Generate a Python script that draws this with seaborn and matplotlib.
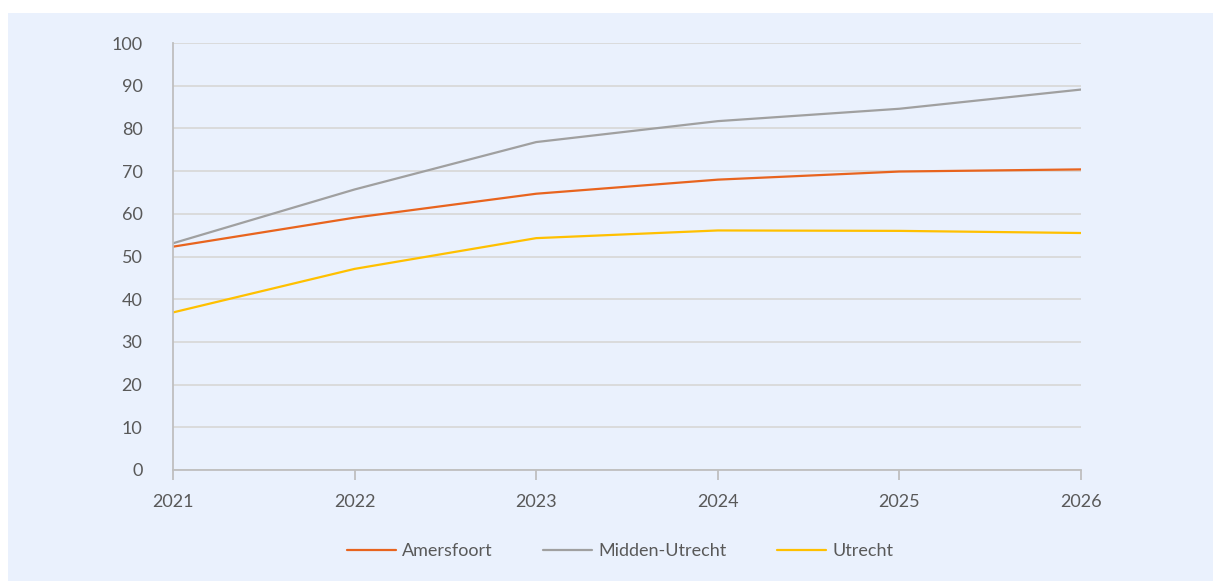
import matplotlib
matplotlib.use("Agg")
import matplotlib.pyplot as plt
from matplotlib.patches import Rectangle
import seaborn as sns
import pandas as pd

years = [2021, 2022, 2023, 2024, 2025, 2026]
amersfoort = [52.3, 59.1, 64.7, 68.0, 69.9, 70.4]
midden_utrecht = [53.1, 65.7, 76.8, 81.7, 84.6, 89.1]
utrecht = [36.9, 47.1, 54.3, 56.1, 56.0, 55.5]

series = {
    'Amersfoort': amersfoort,
    'Midden-Utrecht': midden_utrecht,
    'Utrecht': utrecht,
}
colors = {'Amersfoort': '#E8641E', 'Midden-Utrecht': '#A0A0A0', 'Utrecht': '#FFC000'}

df = pd.DataFrame([
    {'year': y, 'value': v, 'regio': name}
    for name, vals in series.items() for y, v in zip(years, vals)
])

sns.set_style("white")
plt.rcParams['font.family'] = ['Lato', 'DejaVu Sans']

bg = '#EAF1FD'
text_col = '#595959'
W, H = 1213, 581

fig = plt.figure(figsize=(W / 100, H / 100), dpi=100, facecolor='white')
fig.patches.append(Rectangle((8 / W, 0), 1 - 8 / W, 1 - 13 / H, transform=fig.transFigure,
                             facecolor=bg, edgecolor='none', zorder=-10))

ax = fig.add_axes([173 / W, (H - 470) / H, (1081 - 173) / W, (470 - 43) / H])
ax.set_facecolor(bg)

sns.lineplot(data=df, x='year', y='value', hue='regio', palette=colors,
             linewidth=1.6, ax=ax, legend=True)

ax.set_xlim(2021, 2026)
ax.set_ylim(0, 100)
ax.set_yticks(range(0, 101, 10))
ax.set_xticks(years)
ax.grid(axis='y', color='#D9D9D9', linewidth=1.3)
ax.set_axisbelow(True)
for s in ['top', 'right']:
    ax.spines[s].set_visible(False)
for s in ['left', 'bottom']:
    ax.spines[s].set_color('#BFBFBF')
    ax.spines[s].set_linewidth(1.3)

ax.tick_params(axis='x', bottom=True, direction='out', length=7, width=1.3,
               color='#BFBFBF', pad=10, labelsize=13, labelcolor=text_col)
ax.tick_params(axis='y', left=False, length=0, pad=22, labelsize=13, labelcolor=text_col)
ax.set_xlabel('')
ax.set_ylabel('')

handles, labels = ax.get_legend_handles_labels()
ax.legend_.remove()
fig.legend(handles, labels, loc='center', bbox_to_anchor=(620 / W, 1 - 551 / H),
           ncol=3, frameon=False, handlelength=2.7, handletextpad=0.35,
           columnspacing=2.8, labelcolor=text_col, prop={'size': 13})

fig.savefig('out.png', dpi=100, facecolor='white')
